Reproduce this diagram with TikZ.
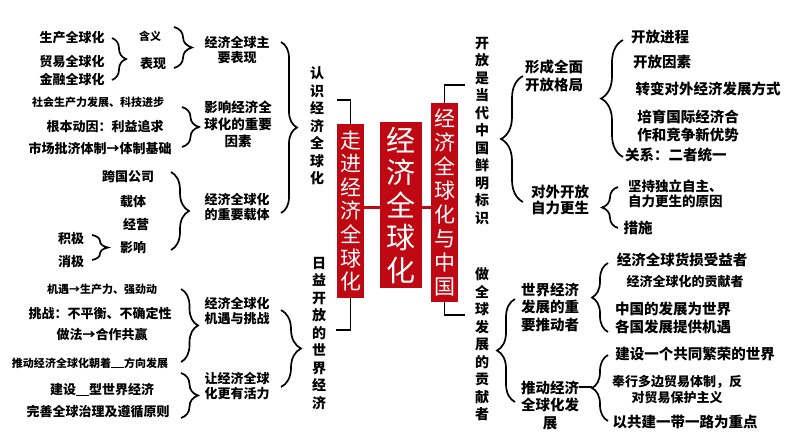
\documentclass[tikz,border=0pt]{standalone}
\usepackage{fontspec}
\setmainfont{Noto Sans CJK SC}
\usetikzlibrary{decorations.pathreplacing}
\definecolor{myred}{RGB}{192,8,18}
\begin{document}
\begin{tikzpicture}[x=1pt,y=-1pt,
  t/.style 2 args={inner sep=0pt,align=center,font=\bfseries\fontsize{#1}{#2}\selectfont},
  sm/.style={t={11}{13}},
  md/.style={t={13}{15}},
  bg/.style={t={14.5}{18}},
  vcol/.style={t={14}{17.5}},
  redbox/.style={fill=myred,text=white,inner sep=0pt,align=center},
  brc/.style={decorate,decoration={brace,amplitude=#1pt},line width=1.7pt},
  bline/.style={line width=1.8pt},
  rline/.style={line width=3pt,myred}
]
\useasboundingbox (0,0) rectangle (794,447);
\def\blank{\rule[-1pt]{13pt}{0.8pt}}

% ---------- red boxes ----------
\node[redbox,minimum width=27pt,minimum height=174pt,font=\fontsize{21}{23.6}\selectfont] (lbox) at (350.5,211) {走\\进\\经\\济\\全\\球\\化};
\node[redbox,minimum width=42pt,minimum height=166pt,font=\fontsize{29}{32.5}\selectfont] (cbox) at (401,205) {经\\济\\全\\球\\化};
\node[redbox,minimum width=27pt,minimum height=199pt,font=\fontsize{21}{24}\selectfont] (rbox) at (444.5,202.5) {经\\济\\全\\球\\化\\与\\中\\国};
\draw[rline] (lbox.east |- 0,207) -- (cbox.west |- 0,207);
\draw[rline] (cbox.east |- 0,207) -- (rbox.west |- 0,207);

% ---------- vertical columns ----------
\node[vcol] (v1) at (317,126) {认\\识\\经\\济\\全\\球\\化};
\node[vcol] (v2) at (319,333.5) {日\\益\\开\\放\\的\\世\\界\\经\\济};
\node[vcol] (v3) at (482,131) {开\\放\\是\\当\\代\\中\\国\\鲜\\明\\标\\识};
\node[vcol] (v4) at (482,344.5) {做\\全\\球\\发\\展\\的\\贡\\献\\者};

\coordinate (k1) at (337,100);
\coordinate (k2) at (336,330);
\coordinate (k3) at (465,85);
\coordinate (k4) at (465,315);
\draw[bline] (lbox.north) |- (k1);
\draw[bline] (lbox.south) |- (k2);
\draw[bline] (rbox.north) |- (k3);
\draw[bline] (rbox.south) |- (k4);

% big braces
\draw[brc=16] (281,42) -- (281,213);
\draw[brc=20] (281,310) -- (281,387);
\draw[brc=22] (523,202) -- (523,76);
\draw[brc=18] (515,402) -- (515,299);

% ---------- left: group 1 ----------
\node[md] (a1) at (72,38) {生产全球化};
\node[md] (a2) at (72,62) {贸易全球化};
\node[md] (a3) at (72,79) {金融全球化};
\draw[brc=14] (112,38) -- (112,80);
\node[sm] (a4) at (150,36) {含义};
\node[md] (a5) at (153,64) {表现};
\draw[brc=18] (174,27) -- (174,68);
\node[md] (a6) at (237,50) {经济全球主\\要表现};

% group 2
\node[sm] (b1) at (98,102) {社会生产力发展、科技进步};
\node[md] (b2) at (105,127) {根本动因：利益追求};
\node[md] (b3) at (100,148) {市场批济体制→体制基础};
\draw[brc=17] (182,107) -- (182,147);
\node[t={13.5}{17}] (b4) at (238,124) {影响经济全\\球化的重要\\因素};

% group 3
\node[md] (c1) at (128,177) {跨国公司};
\node[md] (c2) at (133,202) {载体};
\node[md] (c3) at (136,225) {经营};
\node[md] (c4) at (133,248) {影响};
\node[md] (c5) at (71,239) {积极};
\node[md] (c6) at (71,262) {消极};
\draw[brc=16] (92,235) -- (92,260);
\draw[brc=18] (171,172) -- (171,250);
\node[md] (c7) at (237,207) {经济全球化\\的重要载体};

% group 4
\node[sm] (d1) at (102,289) {机遇→生产力、强劲动};
\node[md] (d2) at (100,313) {挑战：不平衡、不确定性};
\node[md] (d3) at (102,335) {做法→合作共赢};
\node[sm] (d4) at (90,363) {推动经济全球化朝着\blank 方向发展};
\draw[brc=17] (181,289) -- (181,362);
\node[md] (d5) at (237,311) {经济全球化\\机遇与挑战};

% group 5
\node[md] (e1) at (102,390) {建设\blank 型世界经济};
\node[md] (e2) at (98,412) {完善全球治理及遵循原则};
\draw[brc=17] (181,373) -- (181,418);
\node[md] (e3) at (237,386) {让经济全球\\化更有活力};

% ---------- right: upper ----------
\node[bg] (f1) at (554,76) {形成全面\\开放格局};
\draw[brc=22] (623,157) -- (623,40);
\node[bg] (f2) at (660,37) {开放进程};
\node[bg] (f3) at (662,62) {开放因素};
\node[bg] (f4) at (708,89) {转变对外经济发展方式};
\node[bg] (f5) at (688,126) {培育国际经济合\\作和竞争新优势};
\node[bg,anchor=west] (f6) at (625,155) {关系：二者统一};
\node[t={14.5}{16.5}] (g1) at (560,200) {对外开放\\自力更生};
\draw[brc=16] (618,228) -- (618,187);
\node[t={13.5}{15},align=left,anchor=west] (g2) at (628,194) {坚持独立自主、\\自力更生的原因};
\node[bg] (g3) at (638,228) {措施};

% ---------- right: lower ----------
\node[t={14.5}{17.5}] (h1) at (550,307) {世界经济\\发展的重\\要推动者};
\draw[brc=16] (608,332) -- (608,263);
\node[bg] (h2) at (682,260) {经济全球货损受益者};
\node[md] (h3) at (685,282) {经济全球化的贡献者};
\node[bg] (h4) at (673,318) {中国的发展为世界\\各国发展提供机遇};

\node[t={14.5}{17.5}] (i1) at (550,405) {推动经济\\全球化发\\展};
\coordinate (itip) at (592,387);
\draw[brc=16] (608,421) -- (608,355);
\draw[line width=1.5pt] (i1.north east |- itip) -- (itip);
\node[bg] (i2) at (695,354) {建设一个共同繁荣的世界};
\node[t={13}{16}] (i3) at (677,390) {奉行多边贸易体制，反\\对贸易保护主义};
\node[bg] (i4) at (685,422) {以共建一带一路为重点};
\end{tikzpicture}
\end{document}
